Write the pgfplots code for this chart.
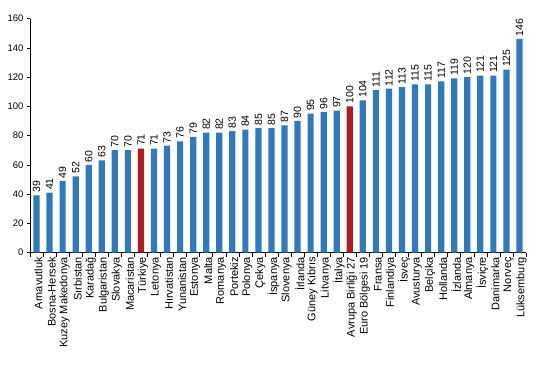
\documentclass[border=0pt]{standalone}
\usepackage{fontspec}
\setmainfont{Liberation Sans}
\usepackage{pgfplots}
\pgfplotsset{compat=1.18}
\definecolor{barblue}{RGB}{46,122,188}
\definecolor{barred}{RGB}{176,28,30}
\begin{document}
\begin{tikzpicture}
\path[use as bounding box] (-30bp,-114.5bp) rectangle (511bp,252.5bp);
\begin{axis}[
  /pgf/number format/assume math mode=true,
  scale only axis,
  width=496bp, height=234bp,
  xmin=-0.5, xmax=37.5,
  ymin=0, ymax=160,
  ytick={0,20,...,160},
  axis x line=bottom, axis y line=left,
  axis line style={-, black, line width=0.6pt},
  tick align=outside,
  major tick length=3bp,
  minor tick length=4bp,
  xtick={0,...,37},
  major x tick style={draw=none},
  minor xtick={-0.5,0.5,...,37.5},
  minor x tick style={black, line width=0.5pt},
  y tick style={black, line width=0.5pt},
  xticklabels={Arnavutluk,Bosna-Hersek,Kuzey Makedonya,Sırbistan,Karadağ,Bulgaristan,Slovakya,Macaristan,Türkiye,Letonya,Hırvatistan,Yunanistan,Estonya,Malta,Romanya,Portekiz,Polonya,Çekya,İspanya,Slovenya,İrlanda,Güney Kıbrıs,Litvanya,İtalya,Avrupa Birliği 27,Euro Bölgesi 19,Fransa,Finlandiya,İsveç,Avusturya,Belçika,Hollanda,İzlanda,Almanya,İsviçre,Danimarka,Norveç,Lüksemburg},
  xticklabel style={rotate=90, anchor=east, font=\fontsize{11bp}{12bp}\selectfont, inner sep=1.5bp, yshift=-2bp},
  yticklabel style={font=\fontsize{9.5bp}{10bp}\selectfont},
  ybar, bar width=6.2bp, bar shift=0pt,
  nodes near coords,
  every node near coord/.append style={rotate=90, anchor=west, font=\fontsize{10.5bp}{11bp}\selectfont, black, inner sep=2.5bp},
  clip=false,
]
\addplot[fill=barblue, draw=none] coordinates {
(0,39) (1,41) (2,49) (3,52) (4,60) (5,63) (6,70) (7,70)
(9,71) (10,73) (11,76) (12,79) (13,82) (14,82) (15,83) (16,84) (17,85) (18,85) (19,87) (20,90) (21,95) (22,96) (23,97)
(25,104) (26,111) (27,112) (28,113) (29,115) (30,115) (31,117) (32,119) (33,120) (34,121) (35,121) (36,125) (37,146)
};
\addplot[fill=barred, draw=none] coordinates {(8,71) (24,100)};
\end{axis}
\end{tikzpicture}
\end{document}
